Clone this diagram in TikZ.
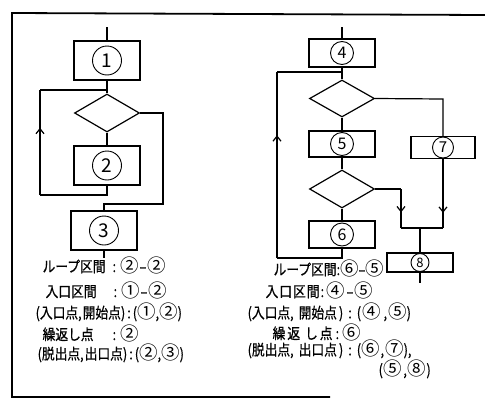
\documentclass[tikz,border=0pt]{standalone}
\usepackage{fontspec}
\setmainfont{Noto Sans CJK JP}
\newfontfamily\jpnarrow[FakeStretch=0.85,FakeBold=0.6]{Noto Sans CJK JP}
\usetikzlibrary{arrows.meta}
\usetikzlibrary{decorations.markings}
\usetikzlibrary{shapes.geometric}

% 丸数字を少し大きく
\newcommand{\cnum}[1]{{\rmfamily\fontsize{18.5}{17}\selectfont #1}}

\tikzset{
  proc/.style={draw,rectangle,minimum width=66pt,inner sep=0pt},
  cond/.style={draw,diamond,minimum width=65pt,minimum height=38pt,inner sep=0pt},
  num/.style={draw,circle,inner sep=0pt,line width=0.9pt},
  txt/.style={anchor=west,inner sep=0pt,font=\jpnarrow\fontsize{15}{16}\selectfont},
  midarrow/.style={postaction={decorate},decoration={markings,
    mark=at position #1 with {\arrow{Straight Barb[length=5pt,width=8pt]}}}}
}

\begin{document}
\begin{tikzpicture}[x=1pt,y=-1pt,line width=1.2pt]
    \useasboundingbox (0,0) rectangle (485,407);
    % 枠
    \draw[line width=1.8pt] (485,15) -- (12,13) -- (12,397) -- (330,397);

    % 左の流れ図
    \node[proc,minimum height=39pt] (b1) at (107,60.5) {};
    \node[cond] (d1) at (107,113) {};
    \node[proc,minimum height=39pt] (b2) at (107,165.5) {};
    \node[proc,minimum height=39pt] (b3) at (104,230.5) {};
    \node[num,minimum size=29pt,font=\fontsize{19}{19}\selectfont] (n1) at (b1) {1};
    \node[num,minimum size=29pt,font=\fontsize{19}{19}\selectfont] (n2) at (b2) {2};
    \node[num,minimum size=29pt,font=\fontsize{19}{19}\selectfont] (n3) at (b3) {3};

    \coordinate (inL) at (107,27);
    \coordinate (outL) at (104,258);
    \coordinate (loopA) at (107,90);
    \coordinate (loopB) at (40,90);
    \coordinate (loopC) at (40,195);
    \coordinate (loopD) at (107,195);
    \coordinate (exA) at (163,113);
    \coordinate (exB) at (163,204);
    \coordinate (exC) at (104,204);

    \draw (inL) -- (b1.north);
    \draw (b1.south) -- (d1.north);
    \draw (d1.south) -- (b2.north);
    \draw (b2.south) -- (loopD) -- (loopC);
    \draw[midarrow=0.64] (loopC) -- (loopB);
    \draw (loopB) -- (loopA);
    \draw (d1.east) -- (exA) -- (exB) -- (exC) -- (b3.north);
    \draw (b3.south) -- (outL);

    % 右の流れ図
    \node[proc,minimum height=28pt] (b4) at (342,53) {};
    \node[cond,minimum height=37pt] (d2) at (342,98.5) {};
    \node[proc,minimum height=26pt] (b5) at (342,144) {};
    \node[cond] (d3) at (342,189) {};
    \node[proc,minimum height=27pt] (b6) at (342,234.5) {};
    \node[proc,minimum width=64pt,minimum height=22pt] (b7) at (443,147.5) {};
    \node[proc,minimum height=19pt] (b8) at (420,262.5) {};
    \node[num,minimum size=23pt,font=\fontsize{16}{16}\selectfont] (n4) at (b4) {4};
    \node[num,minimum size=23pt,font=\fontsize{16}{16}\selectfont] (n5) at (b5) {5};
    \node[num,minimum size=23pt,font=\fontsize{16}{16}\selectfont] (n6) at (b6) {6};
    \node[num,minimum size=21pt,font=\fontsize{15}{15}\selectfont] (n7) at (b7) {7};
    \node[num,minimum size=18pt,font=\fontsize{13}{13}\selectfont] (n8) at (b8) {8};

    \coordinate (inR) at (342,27);
    \coordinate (outR) at (420,283);
    \coordinate (loopE) at (342,72);
    \coordinate (loopF) at (277,72);
    \coordinate (loopG) at (277,258);
    \coordinate (loopH) at (342,258);
    \coordinate (brA) at (443,99);
    \coordinate (brB) at (401,189);
    \coordinate (brC) at (401,228);
    \coordinate (brD) at (443,228);
    \coordinate (brE) at (420,228);

    \draw (inR) -- (b4.north);
    \draw (b4.south) -- (d2.north);
    \draw (d2.south) -- (b5.north);
    \draw (b5.south) -- (d3.north);
    \draw (d3.south) -- (b6.north);
    \draw (b6.south) -- (loopH) -- (loopG);
    \draw[midarrow=0.66] (loopG) -- (loopF);
    \draw (loopF) -- (loopE);
    \draw (d2.east) -- (brA) -- (b7.north);
    \draw (d3.east) -- (brB);
    \draw[midarrow=0.6] (brB) -- (brC);
    \draw[midarrow=0.78] (b7.south) -- (brD);
    \draw (brC) -- (brD);
    \draw (brE) -- (b8.north);
    \draw (b8.south) -- (outR);

    % 説明
    \node[txt] (l1) at (42,265) {ループ区間\hspace{7pt}:\hspace{4pt}\cnum{②}\hspace{1pt}–\hspace{1pt}\cnum{②}};
    \node[txt] (l2) at (45,290) {入口区間\hspace{17pt}:\hspace{4pt}\cnum{①}\hspace{1pt}–\hspace{1pt}\cnum{②}};
    \node[txt] (l3) at (35,312) {(入口点,\hspace{1pt}開始点)\hspace{2pt}:\hspace{2pt}(\cnum{①},\cnum{②})};
    \node[txt] (l4) at (42,333) {繰返し点\hspace{19pt}:\hspace{4pt}\cnum{②}};
    \node[txt] (l5) at (37,353) {(脱出点,\hspace{1pt}出口点)\hspace{2pt}:\hspace{2pt}(\cnum{②},\cnum{③})};

    \node[txt] (r1) at (273,268) {ループ区間:\cnum{⑥}–\cnum{⑤}};
    \node[txt] (r2) at (265,290) {入\hspace{1pt}口\hspace{1pt}区\hspace{1pt}間\hspace{1pt}:\hspace{2pt}\cnum{④}\hspace{2pt}–\hspace{1pt}\cnum{⑤}};
    \node[txt] (r3) at (247,312) {(入口点,\hspace{5pt}開始点\hspace{2pt})\hspace{5pt}:\hspace{5pt}(\hspace{1pt}\cnum{④}\hspace{3pt},\hspace{1pt}\cnum{⑤})};
    \node[txt] (r4) at (272,332) {繰\hspace{2pt}返\hspace{5pt}し\hspace{2pt}点\hspace{3pt}:\hspace{3pt}\cnum{⑥}};
    \node[txt] (r5) at (247,349) {(脱出点,\hspace{5pt}出口点\hspace{2pt})\hspace{5pt}:\hspace{5pt}(\cnum{⑥}\hspace{1pt},\hspace{1pt}\cnum{⑦}),};
    \node[txt] (r6) at (378,369) {(\hspace{1pt}\cnum{⑤}\hspace{1pt},\hspace{1pt}\cnum{⑧})};
\end{tikzpicture}
\end{document}
